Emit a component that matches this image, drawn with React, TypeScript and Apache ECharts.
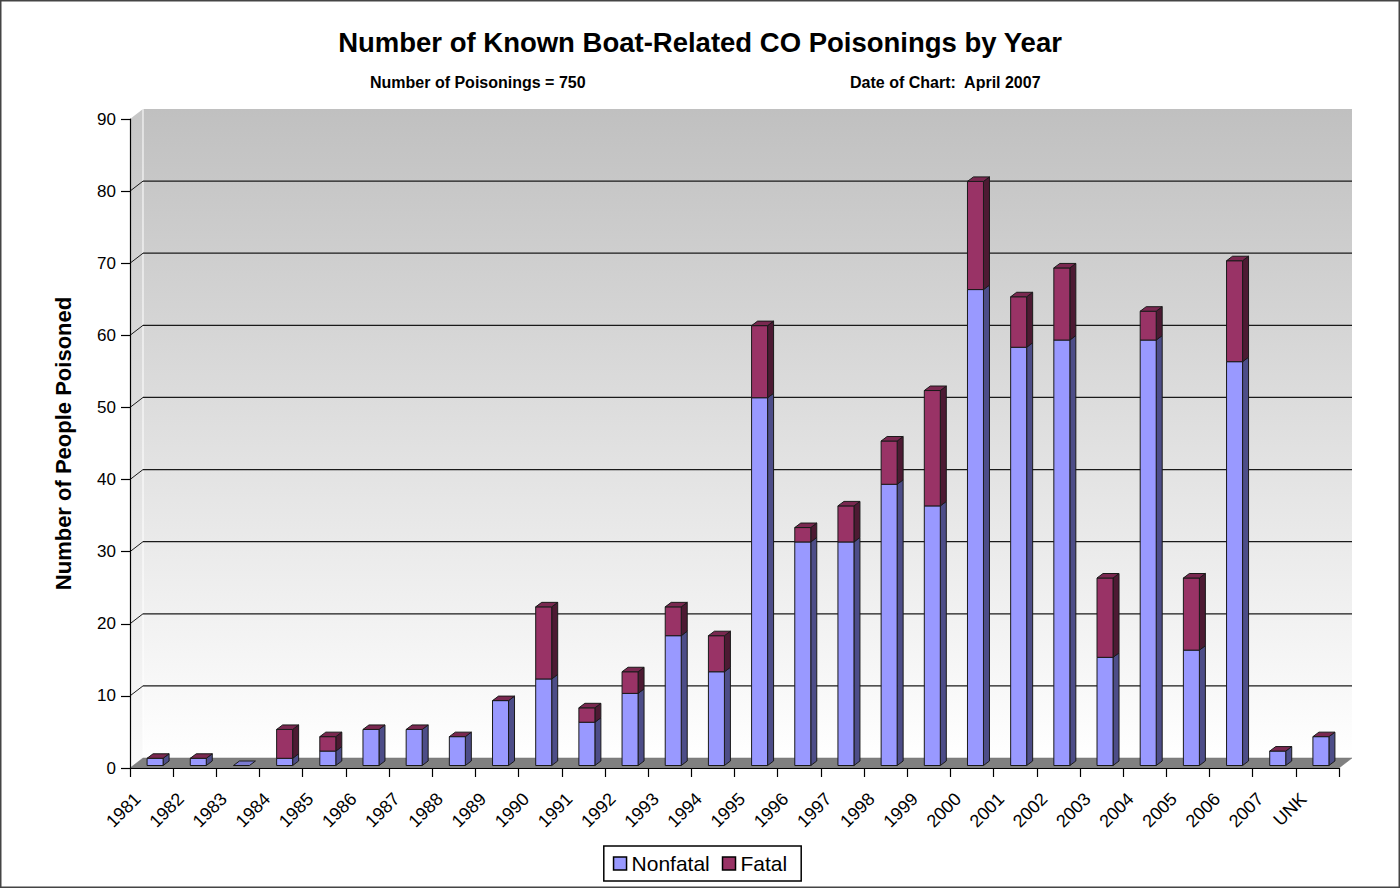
import React, { useEffect, useRef } from 'react';
import * as echarts from 'echarts';

const categories = ['1981', '1982', '1983', '1984', '1985', '1986', '1987', '1988', '1989', '1990', '1991', '1992', '1993', '1994', '1995', '1996', '1997', '1998', '1999', '2000', '2001', '2002', '2003', '2004', '2005', '2006', '2007', 'UNK'];
const nonfatal = [1, 1, 0, 1, 2, 5, 5, 4, 9, 12, 6, 10, 18, 13, 51, 31, 31, 39, 36, 66, 58, 59, 15, 59, 16, 56, 2, 4];
const fatal = [0, 0, 0, 4, 2, 0, 0, 0, 0, 10, 2, 3, 4, 5, 10, 2, 5, 6, 16, 15, 7, 10, 11, 4, 10, 14, 0, 0];
const yTicks = [0, 10, 20, 30, 40, 50, 60, 70, 80, 90];

const TITLE = 'Number of Known Boat-Related CO Poisonings by Year';
const SUB_LEFT = 'Number of Poisonings = 750';
const SUB_RIGHT = 'Date of Chart:  April 2007';
const Y_NAME = 'Number of People Poisoned';
const SERIES_NAMES = ['Nonfatal', 'Fatal'];

const FONT = '"Liberation Sans", Arial, Helvetica, sans-serif';
const DX = 13;
const DY = 10;
const BAR_W = 16;
const BAR_DX = 6;
const BAR_DY = 4.5;
const BAR_SHIFT_X = 3.5;
const BAR_SHIFT_Y = 2.5;

const COLORS = {
  nonfatal: { front: '#9999FF', side: '#4D4D88', top: '#7B7BD0' },
  fatal: { front: '#993366', side: '#4D1A33', top: '#7A2850' },
};

function barRender(c: { front: string; side: string; top: string }) {
  return (params: any, api: any) => {
    const i = api.value(0);
    const lo = api.value(1);
    const hi = api.value(2);
    const drawTop = api.value(3);
    const pLo = api.coord([i, lo]);
    const pHi = api.coord([i, hi]);
    const cx = pLo[0] + BAR_SHIFT_X;
    const yb = pLo[1] - BAR_SHIFT_Y;
    const yt = pHi[1] - BAR_SHIFT_Y;
    const x0 = cx - BAR_W / 2;
    const x1 = cx + BAR_W / 2;
    const stroke = { stroke: '#1a1a1a', lineWidth: 1 };
    const children: any[] = [];
    if (yb - yt > 0.2) {
      children.push({
        type: 'polygon',
        shape: { points: [[x1, yb], [x1 + BAR_DX, yb - BAR_DY], [x1 + BAR_DX, yt - BAR_DY], [x1, yt]] },
        style: { fill: c.side, ...stroke },
      });
      children.push({
        type: 'rect',
        shape: { x: x0, y: yt, width: BAR_W, height: yb - yt },
        style: { fill: c.front, ...stroke },
      });
    }
    if (drawTop) {
      children.push({
        type: 'polygon',
        shape: { points: [[x0, yt], [x0 + BAR_DX, yt - BAR_DY], [x1 + BAR_DX, yt - BAR_DY], [x1, yt]] },
        style: { fill: c.top, ...stroke },
      });
    }
    return { type: 'group', children };
  };
}

function frameRender(params: any, api: any) {
  const cs = params.coordSys;
  const x0 = cs.x;
  const y0 = cs.y;
  const x1 = cs.x + cs.width;
  const y1 = cs.y + cs.height;
  const t = api.value(1);
  const children: any[] = [];
  if (params.dataIndex === 0) {
    // back wall
    children.push({
      type: 'rect',
      shape: { x: x0 + DX, y: y0 - DY, width: cs.width, height: cs.height },
      style: {
        fill: new echarts.graphic.LinearGradient(0, 0, 0, 1, [
          { offset: 0, color: '#C0C0C0' },
          { offset: 1, color: '#FFFFFF' },
        ]),
      },
    });
    // left wall
    children.push({
      type: 'polygon',
      shape: { points: [[x0, y0], [x0 + DX, y0 - DY], [x0 + DX, y1 - DY], [x0, y1]] },
      style: {
        fill: new echarts.graphic.LinearGradient(0, 0, 0, 1, [
          { offset: 0, color: '#C6C6C6' },
          { offset: 1, color: '#FAFAFA' },
        ]),
      },
    });
    children.push({
      type: 'line',
      shape: { x1: x0 + DX, y1: y0 - DY, x2: x0 + DX, y2: y1 - DY },
      style: { stroke: '#FFFFFF', lineWidth: 1 },
    });
    // floor
    children.push({
      type: 'polygon',
      shape: { points: [[x0, y1], [x0 + DX, y1 - DY], [x1 + DX, y1 - DY], [x1, y1]] },
      style: { fill: '#808080', stroke: '#707070', lineWidth: 0.5 },
    });
  }
  const y = api.coord([0, t])[1];
  if (t > 0 && t < 90) {
    children.push({
      type: 'line',
      shape: { x1: x0, y1: y, x2: x0 + DX, y2: y - DY },
      style: { stroke: '#1a1a1a', lineWidth: 1 },
    });
    children.push({
      type: 'line',
      shape: { x1: x0 + DX, y1: y - DY, x2: x1 + DX, y2: y - DY },
      style: { stroke: '#1a1a1a', lineWidth: 1.2 },
    });
  }
  return { type: 'group', children };
}

export default function App() {
  const ref = useRef<HTMLDivElement>(null);
  useEffect(() => {
    if (!ref.current) return;
    const chart = echarts.init(ref.current, null, { renderer: 'svg' });
    const nfData = categories.map((_, i) => [i, 0, nonfatal[i], nonfatal[i] + fatal[i] === 0 ? 1 : 0]);
    const fData = categories.map((_, i) => [i, nonfatal[i], nonfatal[i] + fatal[i], nonfatal[i] + fatal[i] > 0 ? 1 : 0]);
    chart.setOption({
      animation: false,
      backgroundColor: '#FFFFFF',
      textStyle: { fontFamily: FONT, color: '#000' },
      title: [
        {
          text: TITLE,
          left: 'center',
          top: 28,
          padding: 0,
          textStyle: { fontFamily: FONT, fontSize: 27.5, fontWeight: 'bold', color: '#000' },
        },
        {
          text: SUB_LEFT,
          left: 370,
          top: 74,
          padding: 0,
          textStyle: { fontFamily: FONT, fontSize: 16, fontWeight: 'bold', color: '#000' },
        },
        {
          text: SUB_RIGHT,
          left: 850,
          top: 74,
          padding: 0,
          textStyle: { fontFamily: FONT, fontSize: 16, fontWeight: 'bold', color: '#000' },
        },
      ],
      legend: {
        data: SERIES_NAMES,
        left: 'center',
        top: 846,
        icon: 'rect',
        itemWidth: 13,
        itemHeight: 13,
        itemGap: 12,
        padding: [7, 14, 7, 9],
        borderColor: '#000',
        borderWidth: 1.5,
        backgroundColor: '#fff',
        itemStyle: { borderColor: '#000', borderWidth: 1.5 },
        textStyle: { fontFamily: FONT, fontSize: 21, color: '#000' },
      },
      graphic: [
        {
          type: 'rect',
          shape: { x: 0.75, y: 0.75, width: 1398.5, height: 886.5 },
          style: { fill: 'none', stroke: '#444', lineWidth: 1.5 },
          silent: true,
          z: 100,
        },
      ],
      grid: [
        { left: 130, top: 119, width: 1209, height: 649, containLabel: false },
        { left: 116, top: 119, width: 1209, height: 649, containLabel: false },
      ],
      xAxis: [
        {
          type: 'category',
          gridIndex: 0,
          data: categories,
          axisLine: { show: true, lineStyle: { color: '#000', width: 1.2 } },
          axisTick: { show: true, interval: 0, length: 9, lineStyle: { color: '#000', width: 1.2 } },
          axisLabel: { show: false },
          splitLine: { show: false },
          z: 5,
        },
        {
          type: 'category',
          gridIndex: 1,
          data: categories,
          axisLine: { show: false },
          axisTick: { show: false },
          axisLabel: {
            interval: 0,
            rotate: 45,
            margin: 28,
            fontFamily: FONT,
            fontSize: 18,
            color: '#000',
          },
          splitLine: { show: false },
        },
      ],
      yAxis: [
        {
          type: 'value',
          gridIndex: 0,
          min: 0,
          max: 90,
          interval: 10,
          name: Y_NAME,
          nameLocation: 'middle',
          nameRotate: 90,
          nameGap: 56,
          nameTextStyle: { fontFamily: FONT, fontSize: 22, fontWeight: 'bold', color: '#000' },
          axisLine: { show: true, lineStyle: { color: '#000', width: 1.2 } },
          axisTick: { show: true, length: 9, lineStyle: { color: '#000', width: 1.2 } },
          axisLabel: { margin: 14, fontFamily: FONT, fontSize: 17, color: '#000' },
          splitLine: { show: false },
          z: 5,
        },
        {
          type: 'value',
          gridIndex: 1,
          min: 0,
          max: 90,
          interval: 10,
          show: false,
          splitLine: { show: false },
        },
      ],
      series: [
        {
          type: 'custom',
          name: 'frame',
          renderItem: frameRender,
          data: yTicks.map((t) => [0, t]),
          encode: { x: 0, y: 1 },
          clip: false,
          silent: true,
          z: 1,
        },
        {
          type: 'custom',
          name: SERIES_NAMES[0],
          renderItem: barRender(COLORS.nonfatal),
          data: nfData,
          encode: { x: 0, y: [1, 2] },
          itemStyle: { color: COLORS.nonfatal.front },
          clip: false,
          z: 3,
        },
        {
          type: 'custom',
          name: SERIES_NAMES[1],
          renderItem: barRender(COLORS.fatal),
          data: fData,
          encode: { x: 0, y: [1, 2] },
          itemStyle: { color: COLORS.fatal.front },
          clip: false,
          z: 4,
        },
      ],
    });
    return () => chart.dispose();
  }, []);
  return <div ref={ref} style={{ position: 'absolute', left: 0, top: 0, width: 1400, height: 888 }} />;
}
